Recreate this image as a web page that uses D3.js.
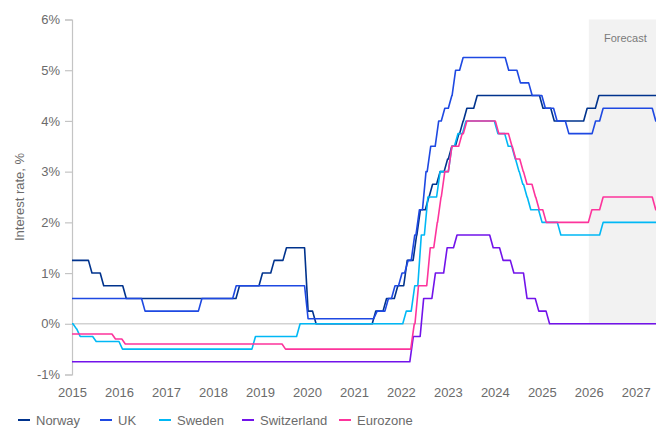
<!DOCTYPE html>
<html>
<head>
<meta charset="utf-8">
<script src="https://cdn.jsdelivr.net/npm/d3@7"></script>
<style>
  body { margin: 0; background: #fff; }
  text { font-family: "Liberation Sans", Arial, sans-serif; fill: #6b6b6b; }
</style>
</head>
<body>
<div id="chart"></div>
<script>
// policy rates, % : [year, new rate] each time the rate changes
var norway = [[2015,1.25],[2015.35,1.0],[2015.60,0.75],[2016.08,0.5],[2018.49,0.75],[2018.98,1.0],[2019.23,1.25],[2019.49,1.5],[2019.95,0.25],[2020.12,0],[2021.39,0.25],[2021.62,0.5],[2021.86,0.75],[2022.06,1.25],[2022.26,1.75],[2022.34,2.25],[2022.52,2.5],[2022.60,2.75],[2022.76,3.0],[2022.92,3.25],[2023.01,3.5],[2023.16,3.75],[2023.25,4.0],[2023.33,4.25],[2023.55,4.5],[2024.95,4.25],[2025.19,4.0],[2025.89,4.25],[2026.14,4.5]];
var uk = [[2015,0.5],[2016.48,0.25],[2017.69,0.5],[2018.42,0.75],[2019.95,0.1],[2021.42,0.25],[2021.66,0.5],[2021.80,0.75],[2021.95,1.0],[2022.08,1.25],[2022.22,1.75],[2022.32,2.25],[2022.46,3.0],[2022.56,3.5],[2022.73,4.0],[2022.86,4.25],[2023.01,4.5],[2023.09,5.0],[2023.25,5.25],[2024.22,5.0],[2024.47,4.75],[2024.72,4.5],[2025.0,4.25],[2025.25,4.0],[2025.50,3.75],[2026.07,4.0],[2026.23,4.25],[2027.35,4.0]];
var sweden = [[2015,0],[2015.02,-0.1],[2015.10,-0.25],[2015.44,-0.35],[2016.0,-0.5],[2018.83,-0.25],[2019.78,0],[2022.04,0.25],[2022.22,0.75],[2022.36,1.75],[2022.50,2.5],[2022.76,3.0],[2023.01,3.5],[2023.14,3.75],[2023.31,4.0],[2023.99,3.75],[2024.21,3.5],[2024.36,3.25],[2024.44,3.0],[2024.52,2.75],[2024.61,2.5],[2024.69,2.25],[2024.93,2.0],[2025.33,1.75],[2026.23,2.0]];
var switzerland = [[2015,-0.75],[2022.19,-0.25],[2022.41,0.5],[2022.66,1.0],[2022.91,1.5],[2023.12,1.75],[2023.89,1.5],[2024.10,1.25],[2024.33,1.0],[2024.61,0.5],[2024.86,0.25],[2025.09,0]];
var eurozone = [[2015,-0.2],[2015.85,-0.3],[2016.06,-0.4],[2019.47,-0.5],[2022.21,0],[2022.30,0.75],[2022.55,1.5],[2022.70,2.0],[2022.78,2.5],[2022.86,3.0],[2023.01,3.5],[2023.23,3.75],[2023.33,4.0],[2024.01,3.75],[2024.29,3.5],[2024.37,3.25],[2024.53,3.0],[2024.61,2.75],[2024.79,2.5],[2024.87,2.25],[2025.02,2.0],[2025.99,2.25],[2026.23,2.5],[2027.35,2.25]];

var countries = ["Norway","UK","Sweden","Switzerland","Eurozone"];
var colors = ["#00338D","#1E49E2","#00B8F5","#7213EA","#FD349C"];
var yearTicks = [2015,2016,2017,2018,2019,2020,2021,2022,2023,2024,2025,2026,2027];
var rateTicks = [-1,0,1,2,3,4,5,6];
var forecastStart = 2026;
var lastDate = 2027.43;

var width = 656, height = 428;
var svg = d3.select('#chart').append('svg')
  .attr("width", width)
  .attr("height", height);

var x = d3.scaleLinear().domain([2015, lastDate]).range([72, 656]);
var y = d3.scaleLinear().domain([-1, 6]).range([374.5, 19.5]);

// forecast band
svg.append('rect')
  .attr("x", x(forecastStart))
  .attr("y", y(6))
  .attr("width", x(lastDate) - x(forecastStart))
  .attr("height", y(0) - y(6))
  .attr("fill", "#f2f2f2");

svg.append('text')
  .text("Forecast")
  .attr("x", (x(forecastStart) + x(lastDate)) / 2 + 3)
  .attr("y", 42)
  .attr("text-anchor", "middle")
  .attr("font-size", "11px")
  .style("fill", "#7a7a7a");

// y axis
var yAxis = d3.axisLeft(y)
  .tickValues(rateTicks)
  .tickSize(7)
  .tickPadding(5)
  .tickFormat(function(d){ return d + "%"; });

var gy = svg.append('g')
  .attr("transform", "translate(72,0)")
  .call(yAxis);
gy.select('.domain').attr("stroke", "#c4c4c4").attr("stroke-width", 1.2);
gy.selectAll('.tick line').attr("stroke", "#c4c4c4").attr("stroke-width", 1.2);
gy.selectAll('.tick text')
  .attr("font-size", "13px")
  .style("font-family", "'Liberation Sans', Arial, sans-serif")
  .style("fill", "#6b6b6b");

// x axis, labels only
var xAxis = d3.axisBottom(x)
  .tickValues(yearTicks)
  .tickSize(0)
  .tickPadding(0)
  .tickFormat(d3.format("d"));

var gx = svg.append('g')
  .attr("transform", "translate(0,387)")
  .call(xAxis);
gx.select('.domain').remove();
gx.selectAll('.tick text')
  .attr("font-size", "13px")
  .attr("dy", "0.75em")
  .style("font-family", "'Liberation Sans', Arial, sans-serif")
  .style("fill", "#6b6b6b");

svg.append('text')
  .text("Interest rate, %")
  .attr("transform", "translate(24,197) rotate(-90)")
  .attr("text-anchor", "middle")
  .attr("font-size", "13px");

// zero line
svg.append('line')
  .attr("x1", x(2015))
  .attr("x2", x(lastDate))
  .attr("y1", y(0))
  .attr("y2", y(0))
  .attr("stroke", "#d2d2d2")
  .attr("stroke-width", 1.5);

// each change is drawn as a one-month move from the old rate to the new one
var ramp = 0.075;
function steps(changes){
  var pts = [changes[0]];
  for (var i = 1; i < changes.length; i++){
    pts.push([changes[i][0], changes[i-1][1]]);
    pts.push([changes[i][0] + ramp, changes[i][1]]);
  }
  pts.push([lastDate, changes[changes.length-1][1]]);
  return pts;
}

var line = d3.line()
  .x(function(d){ return x(Math.min(d[0], lastDate)); })
  .y(function(d){ return y(d[1]); });

var series = [norway, uk, sweden, switzerland, eurozone];

svg.selectAll('path.rate')
  .data(series)
  .enter()
  .append('path')
  .attr("class", "rate")
  .attr("d", function(d){ return line(steps(d)); })
  .attr("fill", "none")
  .attr("stroke", function(d, i){ return colors[i]; })
  .attr("stroke-width", 1.6)
  .attr("stroke-linejoin", "round");

// legend
var legendX = [18, 100, 159, 242, 339];
var legend = svg.selectAll('g.legend')
  .data(countries)
  .enter()
  .append('g')
  .attr("class", "legend")
  .attr("transform", function(d, i){ return "translate(" + legendX[i] + ",420)"; });

legend.append('line')
  .attr("x1", 0)
  .attr("x2", 12)
  .attr("stroke", function(d, i){ return colors[i]; })
  .attr("stroke-width", 2);

legend.append('text')
  .text(function(d){ return d; })
  .attr("x", 18)
  .attr("dy", "0.35em")
  .attr("font-size", "13px");
</script>
</body>
</html>
